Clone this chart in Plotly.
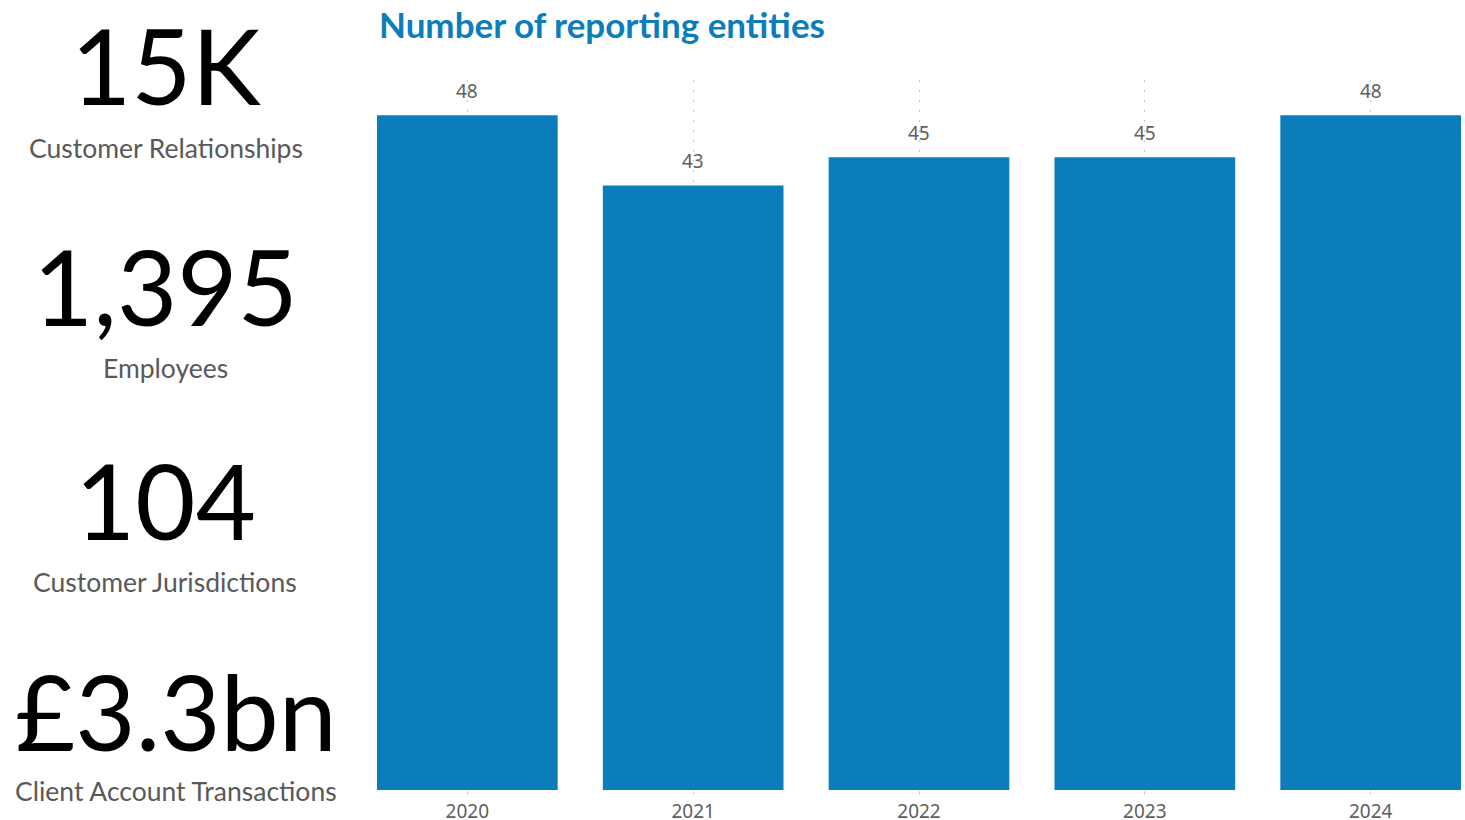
import plotly.graph_objects as go

# Bar chart data
years = ["2020", "2021", "2022", "2023", "2024"]
entities = [48, 43, 45, 45, 48]

# KPI cards on the left
kpi_values = ["15K", "1,395", "104", "£3.3bn"]
kpi_labels = ["Customer Relationships", "Employees", "Customer Jurisdictions", "Client Account Transactions"]

W, H = 1465, 820
L, R, T, B = 377, 4, 80, 30
PW, PH = W - L - R, H - T - B

def px_x(x):
    return (x - L) / PW

def px_y(y):
    return (H - B - y) / PH

BLUE = "#0B7DBB"
LABEL_GREY = "#605E5C"

fig = go.Figure(
    go.Bar(
        x=years,
        y=entities,
        marker=dict(color=BLUE, line=dict(width=0)),
        hoverinfo="skip",
    )
)

# KPI number/label positions (pixel centres)
kpi_cx = [166, 165, 165, 176]
kpi_num_y = [64, 285, 499, 710]
kpi_lab_y = [148, 368, 582, 791]

annotations = []
for v, lab, cx, ny, ly in zip(kpi_values, kpi_labels, kpi_cx, kpi_num_y, kpi_lab_y):
    annotations.append(dict(
        text=v, x=px_x(cx), y=px_y(ny), xref="paper", yref="paper",
        xanchor="center", yanchor="middle", showarrow=False,
        font=dict(family="Lato", size=104, color="#000000"),
    ))
    annotations.append(dict(
        text=lab, x=px_x(cx), y=px_y(ly), xref="paper", yref="paper",
        xanchor="center", yanchor="middle", showarrow=False,
        font=dict(family="Lato", size=26.5, color="#595959"),
    ))

# Value labels above each bar (category index on the x axis)
for i, v in enumerate(entities):
    annotations.append(dict(
        text=str(v), x=i, y=v, xref="x", yref="y",
        xanchor="center", yanchor="bottom", yshift=9, showarrow=False,
        font=dict(family="Noto Sans", size=19, color=LABEL_GREY),
    ))

annotations.append(dict(
    text="<b>Number of reporting entities</b>", x=px_x(377), y=px_y(24),
    xref="paper", yref="paper", xanchor="left", yanchor="middle", showarrow=False,
    font=dict(family="Lato", size=35, color=BLUE),
))

fig.update_layout(
    width=W, height=H,
    margin=dict(l=L, r=R, t=T, b=B),
    paper_bgcolor="white", plot_bgcolor="white",
    bargap=0.2,
    showlegend=False,
    annotations=annotations,
    xaxis=dict(
        type="category", range=[-0.4, 4.4], automargin=False,
        showgrid=True, gridcolor="#C8C8C8", griddash="2px,8px", gridwidth=1,
        showline=False, zeroline=False,
        ticks="outside", ticklen=4, tickcolor="#D0D0D0", tickwidth=1,
        ticklabelstandoff=0,
        tickfont=dict(family="Noto Sans", size=19, color=LABEL_GREY),
        fixedrange=True,
    ),
    yaxis=dict(
        range=[0, 50.5], visible=False, showgrid=False, zeroline=False,
        automargin=False, fixedrange=True,
    ),
)

fig.write_html("out.html")
